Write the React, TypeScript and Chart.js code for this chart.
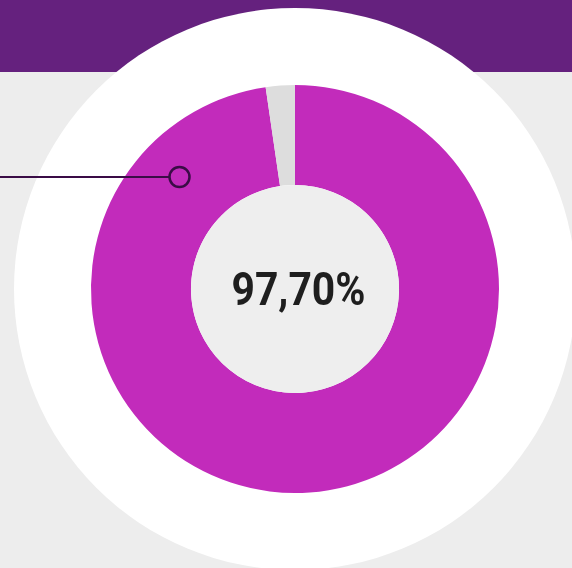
import React, { useEffect, useRef } from "react";
import { Chart, registerables } from "chart.js";

Chart.register(...registerables);

const categories = ["Sim", "Não"];
const values = [97.7, 2.3];
const centerLabel = "97,70%";
const colors = ["#c22bbb", "#dddddd"];

const centerPlugin = {
  id: "centerDecor",
  afterDatasetsDraw(chart: any) {
    const meta = chart.getDatasetMeta(0);
    const arc = meta.data[0];
    if (!arc) return;
    const { x, y, innerRadius } = arc.getProps(["x", "y", "innerRadius"], true);
    const ctx = chart.ctx;
    ctx.save();
    ctx.beginPath();
    ctx.arc(x, y, innerRadius, 0, Math.PI * 2);
    ctx.fillStyle = "#eeeeee";
    ctx.fill();
    ctx.font = "bold 46px Roboto";
    ctx.fillStyle = "#1e1e1e";
    ctx.textAlign = "center";
    ctx.textBaseline = "alphabetic";
    const w = ctx.measureText(centerLabel).width;
    const target = 134;
    ctx.translate(x + 3.5, 305);
    ctx.scale(target / w, 1);
    ctx.fillText(centerLabel, 0, 0);
    ctx.restore();

    // marker line
    ctx.save();
    ctx.strokeStyle = "#3a0c46";
    ctx.lineWidth = 2;
    ctx.beginPath();
    ctx.moveTo(0, 177);
    ctx.lineTo(169, 177);
    ctx.stroke();
    ctx.lineWidth = 2.5;
    ctx.beginPath();
    ctx.arc(179.5, 177, 10, 0, Math.PI * 2);
    ctx.stroke();
    ctx.restore();
  },
};

export default function App() {
  const ref = useRef<HTMLCanvasElement>(null);
  useEffect(() => {
    document.body.style.margin = "0";
    const chart = new Chart(ref.current!, {
      type: "doughnut",
      data: {
        labels: categories,
        datasets: [
          {
            data: values,
            backgroundColor: colors,
            borderWidth: 0,
          },
        ],
      },
      options: {
        animation: false,
        responsive: false,
        cutout: "51%",
        layout: { padding: { left: 91, right: 73, top: 85, bottom: 75 } },
        plugins: { legend: { display: false }, tooltip: { enabled: false } },
      },
      plugins: [centerPlugin],
    });
    return () => chart.destroy();
  }, []);
  return (
    <div
      style={{
        position: "absolute",
        left: 0,
        top: 0,
        width: 572,
        height: 568,
        background: "#ededed",
        overflow: "hidden",
      }}
    >
      <div
        style={{
          position: "absolute",
          left: 0,
          top: 0,
          width: 572,
          height: 72,
          background: "#65217e",
        }}
      />
      <div
        style={{
          position: "absolute",
          left: 295 - 281,
          top: 289 - 281,
          width: 562,
          height: 562,
          borderRadius: "50%",
          background: "#ffffff",
        }}
      />
      <canvas
        ref={ref}
        width={572}
        height={568}
        style={{ position: "absolute", left: 0, top: 0 }}
      />
    </div>
  );
}
